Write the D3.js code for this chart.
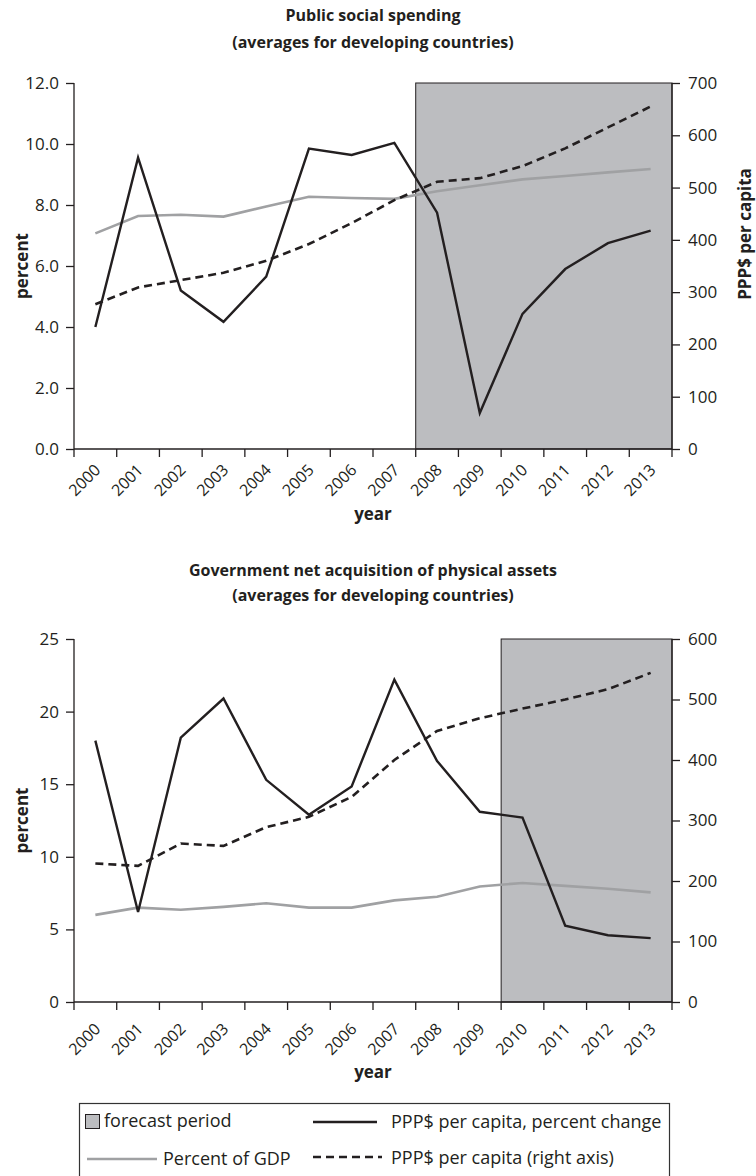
<!DOCTYPE html>
<html>
<head>
<meta charset="utf-8">
<script src="https://cdn.jsdelivr.net/npm/d3@7"></script>
<style>
  body { margin: 0; background: #fff; }
  svg { display: block; }
  text { fill: #231f20; }
</style>
</head>
<body>
<div id="chart"></div>
<script>
// years on the x axis (same for both panels)
var years = ["2000","2001","2002","2003","2004","2005","2006","2007","2008","2009","2010","2011","2012","2013"];

// panel 1: public social spending
var socialChange = [4.0, 9.55, 5.2, 4.17, 5.65, 9.85, 9.64, 10.04, 7.75, 1.18, 4.43, 5.9, 6.75, 7.16];
var socialGdp    = [7.07, 7.64, 7.68, 7.62, 7.95, 8.27, 8.23, 8.2, 8.45, 8.65, 8.84, 8.95, 9.07, 9.18];
var socialPpp    = [277, 309, 323, 337, 360, 392, 432, 476, 511, 518, 541, 575, 615, 655];
var socialLeftTicks  = [0, 2, 4, 6, 8, 10, 12];
var socialRightTicks = [0, 100, 200, 300, 400, 500, 600, 700];
var socialForecastFrom = "2008";

// panel 2: government net acquisition of physical assets
var assetChange = [18.0, 6.2, 18.2, 20.9, 15.3, 12.9, 14.85, 22.2, 16.6, 13.1, 12.7, 5.25, 4.6, 4.4];
var assetGdp    = [6.0, 6.5, 6.35, 6.55, 6.8, 6.5, 6.5, 7.0, 7.25, 7.95, 8.2, 8.0, 7.8, 7.55];
var assetPpp    = [229, 225, 262, 258, 289, 306, 339, 400, 448, 469, 485, 500, 517, 544];
var assetLeftTicks  = [0, 5, 10, 15, 20, 25];
var assetRightTicks = [0, 100, 200, 300, 400, 500, 600];
var assetForecastFrom = "2010";

var W = 756, H = 1176;
var FONT = "'Open Sans', 'Noto Sans', sans-serif";
var INK = "#231f20", GREY = "#a0a1a3", SHADE = "#bcbdc0";

var svg = d3.select("#chart").append("svg")
  .attr("width", W).attr("height", H)
  .style("font-family", FONT);

var x = d3.scaleBand().domain(years).range([74, 672]);

function panel(o) {
  var g = svg.append("g");
  var yL = d3.scaleLinear().domain([0, o.leftMax]).range([o.bottom, o.top]);
  var yR = d3.scaleLinear().domain([0, o.rightMax]).range([o.bottom, o.top]);
  var cx = function(i) { return x(years[i]) + x.bandwidth() / 2; };

  // titles
  g.selectAll(".title").data(o.title).enter().append("text")
    .attr("x", 373).attr("y", function(d, i) { return o.titleY + i * o.titleGap; })
    .attr("text-anchor", "middle")
    .style("font-weight", "bold").style("font-size", "16px")
    .text(function(d) { return d; });

  // forecast shading
  g.append("rect")
    .attr("x", x(o.forecastFrom)).attr("y", o.top)
    .attr("width", x.range()[1] - x(o.forecastFrom))
    .attr("height", o.bottom - o.top)
    .attr("fill", SHADE).attr("stroke", INK).attr("stroke-width", 1);

  // left + right axes
  var la = g.append("g").attr("transform", "translate(74,0)")
    .call(d3.axisLeft(yL).tickValues(o.leftTicks).tickFormat(d3.format(o.leftFmt)).tickSize(8).tickPadding(7));
  var ra = g.append("g").attr("transform", "translate(672,0)")
    .call(d3.axisRight(yR).tickValues(o.rightTicks).tickSize(8).tickPadding(8));
  [la, ra].forEach(function(a) {
    a.select(".domain").attr("stroke", INK).attr("stroke-width", 1.3)
      .attr("d", "M0," + o.top + "V" + o.bottom);
    a.selectAll(".tick line").attr("stroke", INK).attr("stroke-width", 1.3);
    a.selectAll("text").style("font-size", "17px").style("font-family", FONT).attr("fill", INK);
  });

  // x axis, ticks on the band edges
  g.append("line").attr("x1", 74).attr("x2", 672).attr("y1", o.bottom).attr("y2", o.bottom)
    .attr("stroke", INK).attr("stroke-width", 1.3);
  var edges = years.map(function(d) { return x(d); }).concat([x.range()[1]]);
  g.selectAll(".xt").data(edges).enter().append("line")
    .attr("x1", function(d) { return d; }).attr("x2", function(d) { return d; })
    .attr("y1", o.bottom).attr("y2", o.bottom + 8)
    .attr("stroke", INK).attr("stroke-width", 1.3);
  g.selectAll(".xl").data(years).enter().append("text")
    .attr("transform", function(d) {
      return "translate(" + (x(d) + x.bandwidth() / 2 + 6) + "," + (o.bottom + o.labelDy) + ") rotate(-45)";
    })
    .attr("text-anchor", "end")
    .style("font-size", "16px")
    .text(function(d) { return d; });

  // axis titles
  g.append("text").attr("x", 373).attr("y", o.bottom + o.yearDy)
    .attr("text-anchor", "middle")
    .style("font-weight", "bold").style("font-size", "17px")
    .text("year");
  g.append("text")
    .attr("transform", "translate(28," + (o.top + o.bottom) / 2 + ") rotate(-90)")
    .attr("text-anchor", "middle")
    .style("font-weight", "bold").style("font-size", "17px")
    .text("percent");
  if (o.rightTitle) {
    g.append("text")
      .attr("transform", "translate(751," + o.rightTitleY + ") rotate(-90)")
      .attr("text-anchor", "middle")
      .style("font-weight", "bold").style("font-size", "17px")
      .text(o.rightTitle);
  }

  // lines
  var lineL = d3.line().x(function(d, i) { return cx(i); }).y(function(d) { return yL(d); });
  var lineR = d3.line().x(function(d, i) { return cx(i); }).y(function(d) { return yR(d); });
  g.append("path").datum(o.gdp).attr("d", lineL)
    .attr("fill", "none").attr("stroke", GREY).attr("stroke-width", 2.6);
  g.append("path").datum(o.ppp).attr("d", lineR)
    .attr("fill", "none").attr("stroke", INK).attr("stroke-width", 2.6).attr("stroke-dasharray", "8,5");
  g.append("path").datum(o.change).attr("d", lineL)
    .attr("fill", "none").attr("stroke", INK).attr("stroke-width", 2.4);
}

panel({
  title: ["Public social spending", "(averages for developing countries)"],
  titleY: 21, titleGap: 27,
  top: 83, bottom: 449,
  leftMax: 12, rightMax: 700, leftTicks: socialLeftTicks, rightTicks: socialRightTicks, leftFmt: ".1f",
  forecastFrom: socialForecastFrom,
  change: socialChange, gdp: socialGdp, ppp: socialPpp,
  labelDy: 22, yearDy: 71,
  rightTitle: "PPP$ per capita", rightTitleY: 234
});

panel({
  title: ["Government  net acquisition of physical assets", "(averages for developing countries)"],
  titleY: 576, titleGap: 25,
  top: 639, bottom: 1002,
  leftMax: 25, rightMax: 600, leftTicks: assetLeftTicks, rightTicks: assetRightTicks, leftFmt: "d",
  forecastFrom: assetForecastFrom,
  change: assetChange, gdp: assetGdp, ppp: assetPpp,
  labelDy: 28, yearDy: 76,
  rightTitle: null
});

// legend
var lg = svg.append("g").style("font-size", "18px");
lg.append("rect").attr("x", 79.5).attr("y", 1103.5).attr("width", 590).attr("height", 90)
  .attr("fill", "none").attr("stroke", "#333").attr("stroke-width", 1.2);
lg.append("rect").attr("x", 85.5).attr("y", 1114.5).attr("width", 14).attr("height", 14)
  .attr("fill", SHADE).attr("stroke", INK).attr("stroke-width", 1);
lg.append("text").attr("x", 104).attr("y", 1127).text("forecast period");
lg.append("line").attr("x1", 87).attr("x2", 157).attr("y1", 1159).attr("y2", 1159)
  .attr("stroke", GREY).attr("stroke-width", 2.6);
lg.append("text").attr("x", 163).attr("y", 1165).text("Percent of GDP");
lg.append("line").attr("x1", 313).attr("x2", 377).attr("y1", 1122).attr("y2", 1122)
  .attr("stroke", INK).attr("stroke-width", 2.6);
lg.append("text").attr("x", 391).attr("y", 1128).text("PPP$ per capita, percent change");
lg.append("line").attr("x1", 313).attr("x2", 382).attr("y1", 1157).attr("y2", 1157)
  .attr("stroke", INK).attr("stroke-width", 2.6).attr("stroke-dasharray", "8,5");
lg.append("text").attr("x", 391).attr("y", 1164).text("PPP$ per capita (right axis)");
</script>
</body>
</html>
